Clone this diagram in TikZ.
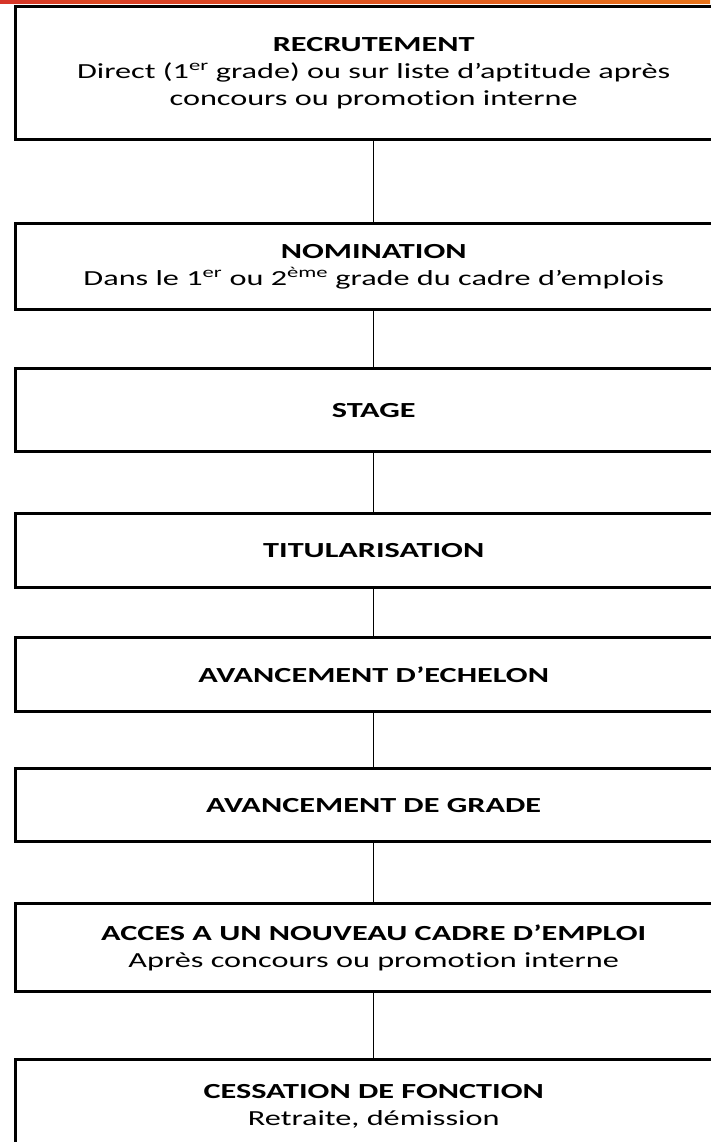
\documentclass[tikz,border=0pt]{standalone}
\usepackage{fontspec}
\setmainfont{Carlito}[FakeStretch=1.5, Ligatures={NoCommon,NoContextual,NoRare}]
\definecolor{barred}{RGB}{214,52,40}
\definecolor{barorange}{RGB}{232,116,26}
\begin{document}
\begin{tikzpicture}[x=1pt,y=-1pt,
  stepbox/.style={draw=black, line width=3.4pt, fill=white, anchor=north west,
    minimum width=716pt, align=center, inner sep=0pt,
    font=\fontsize{21.5}{27}\selectfont},
  link/.style={draw=black, line width=1.3pt}]
\useasboundingbox (0,0) rectangle (710,1142);
\fill[white] (0,0) rectangle (710,1142);
\shade[left color=barred, right color=barorange] (0,0) rectangle (710,4);
\shade[left color=barred, right color=barred!60!barorange] (0,0) rectangle (120,4);
\node[stepbox, minimum height=133pt] (b1) at (14,5) {\textbf{RECRUTEMENT}\\Direct (1\textsuperscript{er} grade) ou sur liste d’apti\/tude après\\concours ou promoti\/on interne};
\node[stepbox, minimum height=86pt] (b2) at (14,222) {\textbf{NOMINATION}\\Dans le 1\textsuperscript{er} ou 2\textsuperscript{ème} grade du cadre d’emplois};
\node[stepbox, minimum height=83pt] (b3) at (14,367) {\textbf{STAGE}};
\node[stepbox, minimum height=74pt] (b4) at (14,512) {\textbf{TITULARISATION}};
\node[stepbox, minimum height=74pt] (b5) at (14,636) {\textbf{AVANCEMENT D’ECHELON}};
\node[stepbox, minimum height=73pt] (b6) at (14,767) {\textbf{AVANCEMENT DE GRADE}};
\node[stepbox, minimum height=88pt] (b7) at (14,902) {\textbf{ACCES A UN NOUVEAU CADRE D’EMPLOI}\\Après concours ou promoti\/on interne};
\node[stepbox, minimum height=94pt] (b8) at (14,1058) {\textbf{CESSATION DE FONCTION}\\Retraite, démission};
\draw[link] (b1.south) -- (b2.north);
\draw[link] (b2.south) -- (b3.north);
\draw[link] (b3.south) -- (b4.north);
\draw[link] (b4.south) -- (b5.north);
\draw[link] (b5.south) -- (b6.north);
\draw[link] (b6.south) -- (b7.north);
\draw[link] (b7.south) -- (b8.north);
\end{tikzpicture}
\end{document}
